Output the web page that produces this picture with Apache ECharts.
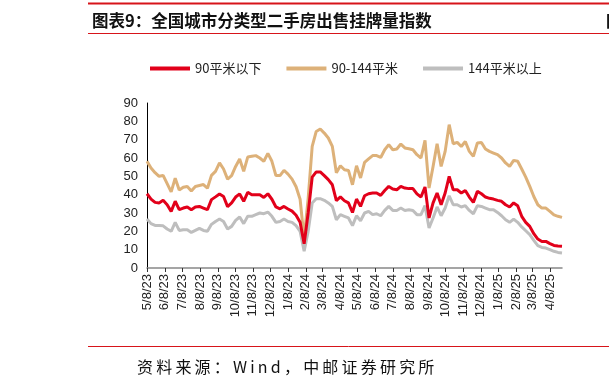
<!DOCTYPE html>
<html><head><meta charset="utf-8">
<script src="https://cdn.jsdelivr.net/npm/echarts@6/dist/echarts.min.js"></script>
<style>html,body{margin:0;padding:0;background:#fff}#c{width:609px;height:387px}</style>
</head><body><div id="c"></div>
<script>
// weekly observations, first week and count
const firstWeek = [2023, 5, 8];
const weekCount = 104;
const seriesNames = ['90平米以下', '90-144平米', '144平米以上'];
const below90 = [40.5,37.6,35.8,35.5,36.9,34.5,30.9,36.4,31.8,32.7,
33.3,31.8,33.3,33.6,32.7,31.8,37.3,38.8,40.4,39,
33.5,35.5,38.7,40.4,36.4,41.3,40,40,40,38.5,
40.5,37.5,33.3,32.3,33.6,32.2,31,28.8,25,13.2,
30,49.6,52.4,52.4,50.4,48.2,45.4,36.8,38.8,36.7,
35.5,30.3,37.6,33.6,39.4,40.5,40.9,40.9,39.6,42.3,
44.5,43.1,42.7,44.5,43.6,43.3,43.3,40.4,38.7,44.2,
27.3,35.5,40.9,34.5,40.9,50,42.7,42.7,40.9,42.3,
38.7,35.8,41.8,40.5,38.7,38,37.6,36.9,36.4,34.5,
33.3,35.5,34,28.2,24.9,22.7,18.7,15.8,14.5,14.5,
13.3,12.3,12,11.8];
const mid90to144 = [58.2,54.5,52,50,50.5,46,41.5,49,42.5,44,
44.5,42,44.5,45,45.5,43.5,50.5,52.7,57.3,54,
48.5,50.4,55.4,59.5,52.7,60.5,60.9,61.3,60,58.2,
62.5,58.2,50.4,50.4,53.3,51.2,48.5,44.3,37.5,16,
38,66.3,74.5,75.8,73.6,70.9,66.3,52,55.8,53.6,
53.2,45.4,55.8,49.1,57.6,59.5,61.3,61.3,60.3,64.5,
67.3,64.5,64.9,67.6,65.5,65,64.5,61.8,60,69.6,
43.6,55.4,67.8,55.4,63.6,78.2,67.8,68.5,66.3,69,
63.6,60.9,68.2,68.5,64.9,63.6,62.7,61.8,60,57.3,
55.4,58.7,58.2,54,49.6,44.5,39,34.5,32.7,32.7,
30.9,29,28.2,27.6];
const above144 = [26.7,24.2,23.2,23.2,23,21.3,20,24.9,20.5,20.9,
20.9,19.4,20.5,21.6,20.5,20,23.8,25.4,26.7,25.4,
21.3,22.7,26,27.8,24.2,28.2,28.2,29.1,30,29.6,
30.5,28.2,24.9,25.4,26.7,25.4,24.9,23.1,20,9.1,
20,35.5,37.8,37.8,36.9,35.5,33.6,26.3,29.1,28.2,
27.3,23.1,28.5,25.8,30,30.9,29.1,29.6,28.5,31.4,
33.6,31.4,31.4,32.7,31.4,31.8,31.4,29.1,29.1,34,
21.8,27.3,33.3,28.5,32.7,39.4,34.5,34.5,33.3,34,
31.4,29.6,34,33.6,32.7,31.8,31.8,30.3,28.5,26.3,
24.9,26.7,24.9,22.4,20.3,18.2,15.1,12.2,11.2,10.9,
10,9.1,8.5,8.2];
const tickLabels = ['5/8/23','6/8/23','7/8/23','8/8/23','9/8/23','10/8/23','11/8/23','12/8/23',
'1/8/24','2/8/24','3/8/24','4/8/24','5/8/24','6/8/24','7/8/24','8/8/24','9/8/24','10/8/24','11/8/24','12/8/24',
'1/8/25','2/8/25','3/8/25','4/8/25'];
const titleText = '图表9：全国城市分类型二手房出售挂牌量指数';
const sourceText = '资料来源：Wind，中邮证券研究所';

const DAY = 86400000;
const t0 = Date.UTC(firstWeek[0], firstWeek[1]-1, firstWeek[2]);
const weekDays = [];
for (let i = 0; i < weekCount; i++) weekDays.push(7 * i);
function labelDay(s){ const p = s.split('/'); return Math.round((Date.UTC(2000 + (+p[2]), (+p[0]) - 1, +p[1]) - t0) / DAY); }
const tickDays = tickLabels.map(labelDay);
const labelMap = {}; tickLabels.forEach((s, i) => labelMap[tickDays[i]] = s);
const pair = arr => arr.map((v, i) => [weekDays[i], v]);
const spaced = s => s.split('').join('\u2009');

const colors = ['#E2001A', '#DDB179', '#BEBEBE'];
const chart = echarts.init(document.getElementById('c'), null, {renderer: 'canvas'});
chart.setOption({
  animation: false,
  backgroundColor: '#fff',
  color: colors,
  grid: {left: 147, right: 47, top: 103, bottom: 119, containLabel: false},
  legend: {
    left: 150, top: 62, padding: 0, itemWidth: 40, itemHeight: 4, itemGap: 25,
    icon: 'rect',
    textStyle: {fontSize: 13, color: '#222', fontFamily: 'Noto Sans CJK SC'},
    data: seriesNames
  },
  xAxis: {
    type: 'value',
    min: 0, max: weekDays[weekDays.length - 1],
    axisLine: {show: true, lineStyle: {color: '#888', width: 1.5}},
    axisTick: {show: true, length: 4, lineStyle: {color: '#333'}, customValues: tickDays},
    axisLabel: {
      customValues: tickDays, rotate: 90, margin: 6, fontSize: 13, color: '#222',
      fontFamily: 'Liberation Sans', hideOverlap: false,
      formatter: v => labelMap[v] || ''
    },
    splitLine: {show: false}
  },
  yAxis: {
    type: 'value', min: 0, max: 90, interval: 10,
    axisLine: {show: true, lineStyle: {color: '#000', width: 1}},
    axisTick: {show: false},
    axisLabel: {fontSize: 13, color: '#222', margin: 9, fontFamily: 'Liberation Sans'},
    splitLine: {show: false}
  },
  series: [
    {name: seriesNames[0], type: 'line', data: pair(below90), showSymbol: false, symbol: 'none', lineStyle: {width: 3, color: colors[0]}, z: 4},
    {name: seriesNames[1], type: 'line', data: pair(mid90to144), showSymbol: false, symbol: 'none', lineStyle: {width: 3, color: colors[1]}, z: 3},
    {name: seriesNames[2], type: 'line', data: pair(above144), showSymbol: false, symbol: 'none', lineStyle: {width: 3, color: colors[2]}, z: 2}
  ],
  graphic: [
    {type: 'line', shape: {x1: 88, y1: 3.5, x2: 609, y2: 3.5}, style: {stroke: '#D7141A', lineWidth: 2}},
    {type: 'line', shape: {x1: 88, y1: 33.5, x2: 609, y2: 33.5}, style: {stroke: '#D7141A', lineWidth: 1.2}},
    {type: 'text', x: 92, y: 21, style: {text: titleText, font: 'bold 16.5px "Noto Sans CJK SC"', fill: '#111', verticalAlign: 'middle'}},
    {type: 'text', x: 606, y: 21, style: {text: '图', font: 'bold 16px "Noto Sans CJK SC"', fill: '#111', verticalAlign: 'middle'}},
    {type: 'line', shape: {x1: 88, y1: 346.5, x2: 609, y2: 346.5}, style: {stroke: '#D7141A', lineWidth: 1}},
    {type: 'text', x: 137, y: 367, style: {text: spaced(sourceText), font: '16px "Noto Sans CJK SC"', fill: '#111', verticalAlign: 'middle'}}
  ]
});
</script></body></html>
